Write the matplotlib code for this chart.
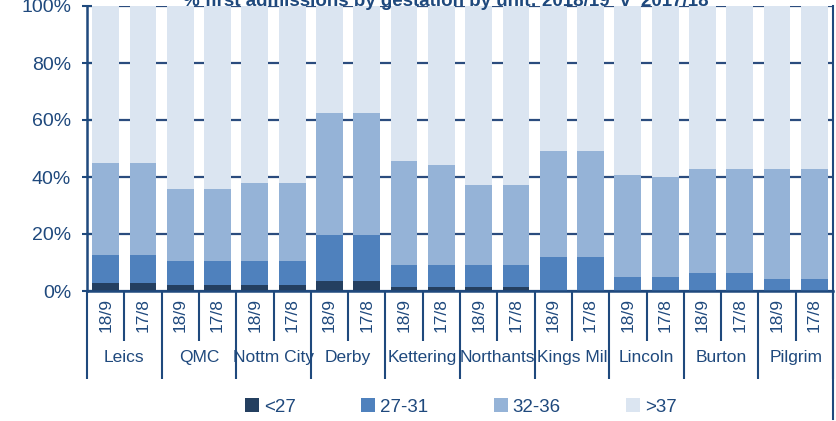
import matplotlib
matplotlib.use('Agg')
from matplotlib import pyplot as plt
import numpy as np

units = ['Leics', 'QMC', 'Nottm City', 'Derby', 'Kettering', 'Northants',
         'Kings Mil', 'Lincoln', 'Burton', 'Pilgrim']
years = ['18/9', '17/8']

# % of first admissions, two bars per unit (18/9 then 17/8)
lt27 = [2.9, 2.9, 2.1, 2.1, 2.1, 2.1, 3.5, 3.5, 1.3, 1.3,
        1.3, 1.3, 0, 0, 0, 0, 0, 0, 0, 0]
w27_31 = [9.7, 9.7, 8.4, 8.4, 8.4, 8.4, 16.1, 16.1, 7.8, 7.8,
          7.8, 7.8, 11.9, 11.9, 4.8, 4.8, 6.3, 6.3, 4.1, 4.1]
w32_36 = [32.4, 32.4, 25.3, 25.3, 27.3, 27.3, 42.7, 42.7, 36.5, 35.0,
          28.0, 28.0, 37.1, 37.1, 35.8, 35.1, 36.4, 36.4, 38.6, 38.6]
gt37 = list(100 - np.array(lt27) - np.array(w27_31) - np.array(w32_36))

series = [('<27', lt27, '#243F60'), ('27-31', w27_31, '#4F81BD'),
          ('32-36', w32_36, '#95B3D7'), ('>37', gt37, '#DBE5F1')]

navy = '#1F497D'
plt.rcParams['font.family'] = ['Liberation Sans Narrow', 'Liberation Sans', 'DejaVu Sans']

fig = plt.figure(figsize=(8.36, 4.21), dpi=100)
ax = fig.add_axes([87/836, 130/421, 746/836, 285/421])

x = np.arange(len(lt27))
bottom = np.zeros(len(x))
handles = []
for label, vals, col in series:
    b = ax.bar(x, vals, 0.72, bottom=bottom, color=col, label=label, zorder=2)
    handles.append(b)
    bottom += np.array(vals)

ax.set_xlim(-0.5, len(x) - 0.5)
ax.set_ylim(0, 100)
ax.set_yticks(np.arange(0, 101, 20))
ax.set_yticklabels(['%d%%' % v for v in range(0, 101, 20)])
ax.yaxis.grid(True, color='#2B4C7E', linewidth=1.6, zorder=0)
ax.set_axisbelow(True)
ax.tick_params(axis='y', direction='inout', length=7, width=1.5, color=navy,
               labelcolor=navy, labelsize=14, pad=8)

# category axis: short ticks inside a unit, long ticks between units
ax.set_xticks(np.arange(-0.5, len(x), 2))
ax.set_xticks(np.arange(0.5, len(x), 2), minor=True)
ax.tick_params(axis='x', which='major', length=63, width=1.5, color=navy, labelbottom=False)
ax.tick_params(axis='x', which='minor', length=36, width=1.5, color=navy, labelbottom=False)

for s in ['top', 'right']:
    ax.spines[s].set_visible(False)
ax.spines['left'].set_color(navy)
ax.spines['left'].set_linewidth(1.8)
ax.spines['bottom'].set_color(navy)
ax.spines['bottom'].set_linewidth(1.8)

trans = ax.get_xaxis_transform()
for i in x:
    ax.text(i, -0.084, years[i % 2], rotation=90, ha='center', va='center',
            fontsize=12.5, color=navy, transform=trans)
for j, u in enumerate(units):
    ax.text(2 * j + 0.5, -0.235, u, ha='center', va='center',
            fontsize=12.5, color=navy, transform=trans)

# right border line down to the bottom of the chart
ax.plot([1, 1], [-0.45, 1], transform=ax.transAxes, color=navy,
        linewidth=1.5, clip_on=False)

fig.text(446/836, 1 - 6/421, '% first admissions by gestation by unit: 2018/19  v  2017/18',
         ha='center', va='baseline', fontsize=13.5, fontweight='bold', color=navy)

leg = fig.legend(handles=handles, loc='center', bbox_to_anchor=(461/836, 1 - 407/421),
                 ncol=4, frameon=False, fontsize=13.5, handlelength=0.75, handleheight=0.75,
                 handletextpad=0.25, columnspacing=3.5)
for t in leg.get_texts():
    t.set_color(navy)

fig.savefig('out.png', dpi=100)
